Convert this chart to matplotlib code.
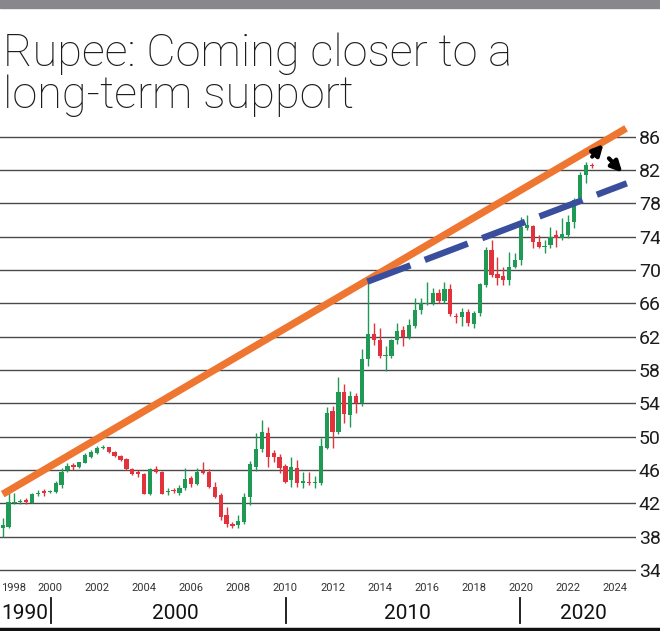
import matplotlib
matplotlib.use('Agg')
import matplotlib.pyplot as plt
import matplotlib.transforms as mtransforms
import numpy as np

plt.rcParams['font.family'] = ['Roboto', 'DejaVu Sans']

# Quarterly USD/INR candles, first one is 1998 Q1, last one 2023 Q1
start_year = 1998
opens = [39.0, 39.2, 42.0, 42.1, 42.4, 42.1, 43.1, 43.45, 43.4, 43.4,
         44.2, 46.0, 46.6, 46.4, 46.9, 47.6, 48.0, 48.65, 48.7, 48.2,
         47.7, 47.3, 46.1, 45.7, 45.5, 43.1, 46.1, 45.8, 43.4, 43.55,
         43.3, 43.8, 45.0, 44.3, 45.8, 45.8, 44.0, 43.0, 40.6, 39.5,
         39.4, 39.8, 42.8, 46.4, 48.5, 50.5, 48.0, 47.6, 46.5, 44.8,
         46.2, 44.5, 44.55, 44.45, 44.5, 48.7, 53.1, 50.6, 55.4, 52.6,
         54.9, 54.0, 59.3, 62.3, 61.6, 59.7, 59.7, 61.6, 62.8, 62.0,
         63.3, 65.2, 65.95, 66.0, 67.3, 66.3, 67.7, 64.5, 64.3, 65.0,
         63.5, 64.8, 68.2, 72.4, 69.5, 69.3, 68.8, 70.4, 71.2, 75.1,
         75.3, 73.4, 72.8, 73.0, 74.2, 73.9, 74.2, 75.8, 78.6, 81.4,
         82.6]
highs = [40.2, 43.2, 43.2, 42.5, 42.6, 43.2, 43.6, 43.7, 43.6, 44.7,
         46.2, 46.8, 46.9, 47.0, 48.0, 48.4, 48.9, 49.0, 48.8, 48.3,
         47.8, 47.4, 46.3, 46.0, 45.6, 46.3, 46.5, 45.9, 43.9, 43.9,
         44.2, 46.3, 45.3, 46.3, 47.0, 46.1, 44.6, 43.2, 41.6, 39.8,
         40.6, 43.2, 47.1, 50.4, 52.0, 51.2, 48.4, 47.9, 46.7, 47.6,
         47.2, 45.8, 45.8, 45.3, 49.8, 53.6, 53.7, 57.2, 56.3, 55.5,
         55.3, 60.5, 68.7, 63.7, 63.1, 60.9, 61.7, 63.7, 63.3, 64.1,
         66.7, 66.7, 68.6, 67.9, 67.7, 68.6, 68.3, 64.9, 65.5, 65.3,
         65.1, 68.5, 72.8, 73.6, 71.6, 70.4, 72.2, 72.0, 76.4, 76.6,
         75.4, 74.2, 73.6, 75.2, 74.8, 76.2, 76.6, 78.6, 81.8, 83.0,
         82.8]
lows = [38.0, 39.1, 41.9, 41.9, 41.9, 42.0, 42.9, 42.9, 43.2, 43.2,
        43.8, 45.8, 46.0, 46.3, 46.8, 47.5, 47.9, 48.5, 48.1, 47.6,
        47.1, 46.0, 45.4, 45.2, 43.1, 43.0, 45.6, 43.1, 43.0, 43.2,
        43.0, 43.6, 44.0, 44.2, 45.5, 43.9, 42.6, 40.0, 39.2, 39.0,
        39.0, 39.5, 41.8, 45.9, 48.2, 46.4, 47.0, 45.6, 44.4, 44.0,
        44.0, 43.8, 44.2, 43.9, 44.2, 48.5, 48.6, 50.3, 51.6, 51.2,
        52.8, 53.7, 58.5, 61.0, 59.5, 57.9, 59.5, 61.1, 60.9, 61.7,
        63.1, 64.7, 65.8, 65.8, 66.1, 66.1, 64.5, 63.7, 63.3, 63.3,
        63.0, 64.5, 68.0, 69.2, 68.2, 68.2, 68.2, 70.2, 70.6, 74.8,
        72.6, 72.6, 72.0, 72.6, 72.8, 73.6, 73.8, 75.0, 78.4, 80.4,
        82.2]
closes = [39.4, 42.2, 42.2, 42.3, 42.2, 43.1, 43.3, 43.3, 43.5, 44.4,
          45.8, 46.5, 46.4, 46.9, 47.8, 48.2, 48.7, 48.75, 48.2, 47.7,
          47.2, 46.1, 45.5, 45.6, 43.1, 46.1, 45.8, 43.1, 43.5, 43.45,
          43.8, 44.9, 44.3, 45.8, 45.7, 44.0, 42.8, 40.4, 39.5, 39.3,
          39.9, 42.8, 46.7, 48.5, 50.5, 47.6, 47.6, 46.3, 44.6, 46.4,
          44.4, 44.6, 44.45, 44.55, 48.9, 52.9, 50.6, 55.4, 52.7, 54.9,
          54.0, 59.3, 62.3, 61.6, 59.7, 59.8, 61.6, 62.7, 62.0, 63.4,
          65.2, 66.0, 66.05, 67.3, 66.3, 67.7, 64.7, 64.3, 65.0, 63.6,
          64.8, 68.3, 72.4, 69.4, 69.0, 68.8, 70.4, 71.2, 75.2, 75.4,
          73.4, 72.8, 72.9, 74.0, 73.9, 74.3, 75.8, 78.4, 81.4, 82.6,
          82.5]

price_ticks = [34, 38, 42, 46, 50, 54, 58, 62, 66, 70, 74, 78, 82, 86]
year_ticks = [1998, 2000, 2002, 2004, 2006, 2008, 2010, 2012, 2014,
              2016, 2018, 2020, 2022, 2024]
decade_labels = ['1990', '2000', '2010', '2020']

# trend lines as (years, values)
long_term_x = [1998.0, 2024.46]
long_term_y = [43.1, 87.0]
support_x = [2013.48, 2024.49]
support_y = [68.6, 80.4]

W, H = 660, 631
GREEN = '#1f9a55'
RED = '#e2323c'


def fx(px):
    return px / W


def fy(py):
    return 1 - py / H


fig = plt.figure(figsize=(W / 100, H / 100), dpi=100)
fig.patch.set_facecolor('white')

# grey strip at the very top
fig.patches.append(plt.Rectangle((0, fy(8)), 1, 8 / H, transform=fig.transFigure,
                                 color='#88888c', zorder=0))

fig.text(fx(3), fy(66), 'Rupee: Coming closer to a', fontsize=32.5,
         fontweight='light', color='#1c1c1c', va='baseline', ha='left')
fig.text(fx(3), fy(108), 'long-term support', fontsize=32.5,
         fontweight='light', color='#1c1c1c', va='baseline', ha='left')

ax = fig.add_axes([0, fy(575), fx(636), (575 - 120) / H])
ax.set_xlim(1997.885, 2024.88)
ax.set_ylim(33.4, 88.0)
for s in ax.spines.values():
    s.set_visible(False)
ax.set_xticks([])
ax.yaxis.tick_right()
ax.set_yticks(price_ticks)
ax.set_yticklabels([str(v) for v in price_ticks])
ax.tick_params(axis='y', length=0, pad=2, labelsize=14, labelcolor='#1c1c1c')

for v in price_ticks:
    ax.axhline(v, color='#4a4a4a', lw=1.0, zorder=1)

# candles
t = start_year + np.arange(len(opens)) / 4
o = np.array(opens)
hi = np.array(highs)
lo = np.array(lows)
c = np.array(closes)
cols = np.where(c >= o, GREEN, RED)
body = np.maximum(np.abs(c - o), 0.15)
bottom = (o + c) / 2 - body / 2
ax.vlines(t, lo, hi, colors=cols, lw=1.0, zorder=3)
ax.bar(t, body, bottom=bottom, width=0.18, color=cols, zorder=4)

# trend lines
ax.plot(long_term_x, long_term_y, color='#ee7630', lw=5.2,
        solid_capstyle='butt', zorder=5)
ax.plot(support_x, support_y, color='#3a4e9e', lw=4.6,
        dashes=(7.2, 2.4), dash_capstyle='butt', zorder=5)

# arrows near the end
arrow = dict(arrowstyle='-|>', lw=3, color='black', mutation_scale=16,
             shrinkA=0, shrinkB=0)
ax.annotate('', xy=(2023.5, 85.1), xytext=(2023.02, 83.6), arrowprops=arrow,
            zorder=6)
ax.annotate('', xy=(2024.3, 81.7), xytext=(2023.73, 83.4), arrowprops=arrow,
            zorder=6)

# year labels under the chart
trans = mtransforms.blended_transform_factory(ax.transData, fig.transFigure)
for yr in year_ticks:
    if yr == year_ticks[0]:
        fig.text(fx(1), fy(588), str(yr), fontsize=8, ha='left', va='center',
                 color='#333333')
        continue
    ax.text(yr, fy(588), str(yr), transform=trans, fontsize=8, ha='center',
            va='center', color='#333333', clip_on=False)

# decade labels with separators
decade_pos = [(1, 'left'), (175, 'center'), (407, 'center'), (583, 'center')]
for lab, (px, ha) in zip(decade_labels, decade_pos):
    fig.text(fx(px), fy(619), lab, fontsize=15, ha=ha, va='baseline',
             color='#111111')
for px in [51, 286, 520]:
    fig.add_artist(plt.Line2D([fx(px), fx(px)], [fy(598), fy(623)],
                              transform=fig.transFigure, color='#111111', lw=1.3))

fig.add_artist(plt.Line2D([0, 1], [fy(629), fy(629)], transform=fig.transFigure,
                          color='#111111', lw=2.5))

fig.savefig('out.png', dpi=100)
